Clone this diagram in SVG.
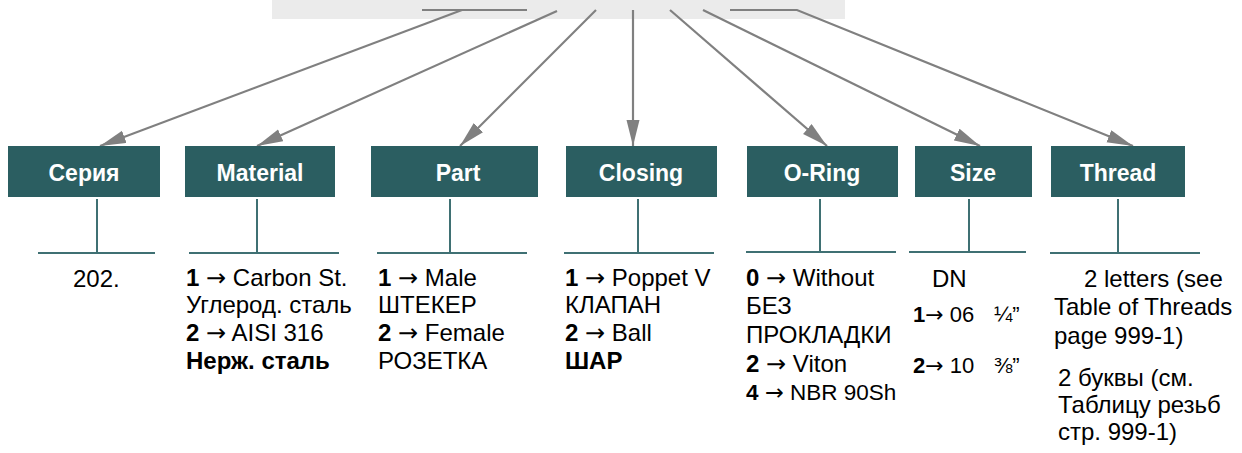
<svg xmlns="http://www.w3.org/2000/svg" width="1242" height="453" viewBox="0 0 1242 453">
<style>
.hdr{fill:#2b5e61}
.ht{font-family:"Liberation Sans",Arial,sans-serif;font-weight:bold;font-size:23px;fill:#fff;text-anchor:middle}
.t{font-family:"Liberation Sans",Arial,sans-serif;font-size:24px;fill:#000}
.s21{font-size:22px}
.s22{font-size:22.5px}
.s19{font-size:22px}
.b{font-weight:bold}
.ar{font-family:"DejaVu Sans",sans-serif}
.stem{stroke:#3f7073;stroke-width:2;fill:none}
.con{stroke:#808080;stroke-width:2.2;fill:none}
</style>
<defs>
<marker id="ah" markerUnits="userSpaceOnUse" markerWidth="28" markerHeight="14" refX="26" refY="6.5" orient="auto">
<path d="M0,0 L26,6.5 L0,13 z" fill="#808080"/>
</marker>
</defs>
<rect x="272" y="0" width="573" height="19" fill="#ebebeb"/>
<g id="connectors">
<line class="con" x1="422" y1="10" x2="527" y2="10"/>
<path class="con" d="M462,10 L100,146" marker-end="url(#ah)"/>
<path class="con" d="M557,11 L257,146" marker-end="url(#ah)"/>
<path class="con" d="M596,10 L460,146" marker-end="url(#ah)"/>
<path class="con" d="M633,10 L633,146" marker-end="url(#ah)"/>
<path class="con" d="M670,10 L827,146" marker-end="url(#ah)"/>
<path class="con" d="M703,10 L980,146" marker-end="url(#ah)"/>
<path class="con" d="M730,10 L797,10 L1133,146" marker-end="url(#ah)"/>
</g>
<g id="node-seriya">
<rect class="hdr" x="8" y="146" width="152" height="51"/>
<text class="ht" x="84" y="181">Серия</text>
<path class="stem" d="M97,199 V253 M38,253 H155"/>
<text class="t" x="73" y="287">202.</text>
</g>
<g id="node-material">
<rect class="hdr" x="185" y="146" width="150" height="51"/>
<text class="ht" x="260" y="181">Material</text>
<path class="stem" d="M257,199 V253 M189,253 H339"/>
<text class="t" x="186" y="286"><tspan class="b">1</tspan> <tspan class="ar">→</tspan> Carbon St.</text>
<text class="t" x="186" y="313">Углерод. сталь</text>
<text class="t" x="186" y="341"><tspan class="b">2</tspan> <tspan class="ar">→</tspan> AISI 316</text>
<text class="t b" x="186" y="369">Нерж. сталь</text>
</g>
<g id="node-part">
<rect class="hdr" x="371" y="146" width="167" height="51"/>
<text class="ht" x="458" y="181">Part</text>
<path class="stem" d="M450,199 V253 M377,253 H527"/>
<text class="t" x="378" y="286"><tspan class="b">1</tspan> <tspan class="ar">→</tspan> Male</text>
<text class="t" x="378" y="313">ШТЕКЕР</text>
<text class="t" x="378" y="341"><tspan class="b">2</tspan> <tspan class="ar">→</tspan> Female</text>
<text class="t" x="378" y="369">РОЗЕТКА</text>
</g>
<g id="node-closing">
<rect class="hdr" x="566" y="146" width="151" height="51"/>
<text class="ht" x="641" y="181">Closing</text>
<path class="stem" d="M638,199 V253 M564,253 H714"/>
<text class="t" x="565" y="286"><tspan class="b">1</tspan> <tspan class="ar">→</tspan> Poppet V</text>
<text class="t" x="565" y="313">КЛАПАН</text>
<text class="t" x="565" y="341"><tspan class="b">2</tspan> <tspan class="ar">→</tspan> Ball</text>
<text class="t b" x="565" y="369">ШАР</text>
</g>
<g id="node-oring">
<rect class="hdr" x="747" y="146" width="151" height="51"/>
<text class="ht" x="822" y="181">O-Ring</text>
<path class="stem" d="M820,199 V252 M746,252 H896"/>
<text class="t" x="746" y="286"><tspan class="b">0</tspan> <tspan class="ar">→</tspan> Without</text>
<text class="t" x="746" y="314">БЕЗ</text>
<text class="t" x="746" y="343">ПРОКЛАДКИ</text>
<text class="t" x="746" y="372"><tspan class="b">2</tspan> <tspan class="ar">→</tspan> Viton</text>
<text class="t s22" x="746" y="400"><tspan class="b">4</tspan> <tspan class="ar">→</tspan> NBR 90Sh</text>
</g>
<g id="node-size">
<rect class="hdr" x="915" y="146" width="117" height="51"/>
<text class="ht" x="973" y="181">Size</text>
<path class="stem" d="M969,199 V252 M909,252 H1026"/>
<text class="t" x="932" y="287">DN</text>
<text class="t s21" x="913" y="322"><tspan class="b">1</tspan><tspan class="ar">→</tspan> 06</text>
<text class="t s19" x="994" y="322">¼”</text>
<text class="t s21" x="913" y="373"><tspan class="b">2</tspan><tspan class="ar">→</tspan> 10</text>
<text class="t s19" x="994" y="373">⅜”</text>
</g>
<g id="node-thread">
<rect class="hdr" x="1051" y="146" width="134" height="51"/>
<text class="ht" x="1118" y="181">Thread</text>
<path class="stem" d="M1118,199 V253 M1050,253 H1200"/>
<text class="t" x="1084" y="287">2 letters (see</text>
<text class="t" x="1054" y="315">Table of Threads</text>
<text class="t" x="1054" y="344">page 999-1)</text>
<text class="t" x="1058" y="386">2 буквы (см.</text>
<text class="t" x="1058" y="413">Таблицу резьб</text>
<text class="t" x="1058" y="440">стр. 999-1)</text>
</g>
</svg>
